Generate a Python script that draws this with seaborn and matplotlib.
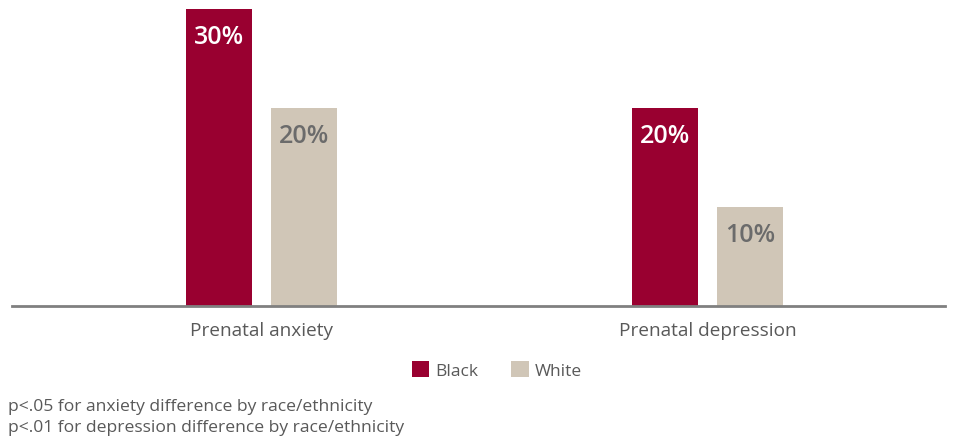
import matplotlib
matplotlib.use("Agg")
import matplotlib.pyplot as plt
import seaborn as sns
import pandas as pd
from matplotlib.patches import Patch

categories = ["Prenatal anxiety", "Prenatal depression"]
groups = ["Black", "White"]
black_values = [30, 20]
white_values = [20, 10]
footnotes = ["p<.05 for anxiety difference by race/ethnicity",
             "p<.01 for depression difference by race/ethnicity"]

colors = {"Black": "#990030", "White": "#D0C6B7"}
label_colors = {"Black": "white", "White": "#6B6B6B"}

df = pd.DataFrame({
    "category": categories * 2,
    "group": ["Black"] * len(categories) + ["White"] * len(categories),
    "value": black_values + white_values,
})

sns.set_theme(style="white")
plt.rcParams['font.family'] = ['Open Sans', 'DejaVu Sans']

fig = plt.figure(figsize=(9.57, 4.39), dpi=100)
ax = fig.add_axes([12/957, (439-307)/439, (945-12)/957, (307-10)/439])

sns.barplot(data=df, x="category", y="value", hue="group", order=categories,
            hue_order=groups, palette=colors, width=0.381, gap=0.223,
            ax=ax, legend=False, saturation=1, linewidth=0)

ax.set_xlim(-0.559, 1.532)
ax.set_ylim(0, 30)
ax.set_yticks([])
ax.set_xlabel("")
ax.set_ylabel("")
for s in ["top", "right", "left"]:
    ax.spines[s].set_visible(False)
ax.spines["bottom"].set_color("#808080")
ax.spines["bottom"].set_linewidth(2)
ax.tick_params(axis="x", length=0, pad=11, labelsize=13.7, labelcolor="#595959")

for cont, g in zip(ax.containers, groups):
    for p in cont:
        h = p.get_height()
        ax.annotate(f"{h:.0f}%", (p.get_x() + p.get_width()/2, h),
                    xytext=(0, -10.5), textcoords="offset points",
                    ha="center", va="top", fontsize=18, fontweight="semibold",
                    color=label_colors[g])

handles = [Patch(facecolor=colors[g], edgecolor="none", label=g) for g in groups]
fig.legend(handles=handles, loc="center", bbox_to_anchor=(497/957, (439-371)/439),
           ncol=2, frameon=False, fontsize=12.5, handlelength=1.0, handleheight=1.0,
           columnspacing=1.9, handletextpad=0.35, labelcolor="#595959")

fig.text(8/957, (439-407)/439, footnotes[0], fontsize=12.6, color="#595959", va="center")
fig.text(8/957, (439-428)/439, footnotes[1], fontsize=12.6, color="#595959", va="center")

fig.savefig("out.png", dpi=100)
